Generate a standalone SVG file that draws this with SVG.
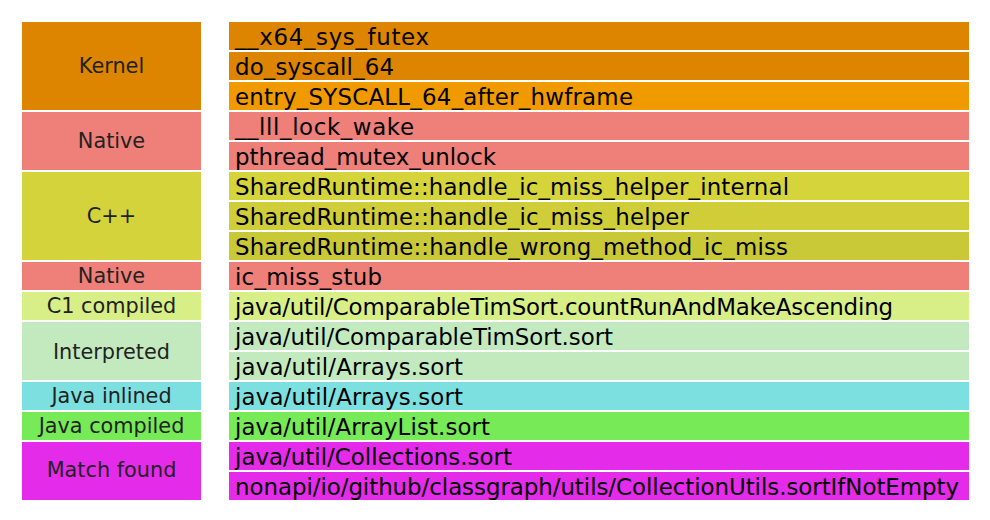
<svg xmlns="http://www.w3.org/2000/svg" width="990" height="520" viewBox="0 0 990 520">
<style>
.lab{font-family:"DejaVu Sans","Verdana",sans-serif;font-size:20.8px;fill:#222;text-anchor:middle;dominant-baseline:central}
.fr{font-family:"DejaVu Sans","Verdana",sans-serif;font-size:22.9px;fill:#000;dominant-baseline:central}
</style>
<rect width="990" height="520" fill="#fff"/>
<g id="legend">
<g id="kernel"><rect x="22" y="22" width="179" height="88" fill="#DD8500"/><text class="lab" x="111.5" y="66">Kernel</text></g>
<g id="native1"><rect x="22" y="112" width="179" height="58" fill="#EF7F79"/><text class="lab" x="111.5" y="141">Native</text></g>
<g id="cpp"><rect x="22" y="172" width="179" height="88" fill="#D4D33C"/><text class="lab" x="111.5" y="216">C++</text></g>
<g id="native2"><rect x="22" y="262" width="179" height="28" fill="#EF7F79"/><text class="lab" x="111.5" y="276">Native</text></g>
<g id="c1"><rect x="22" y="292" width="179" height="28" fill="#D8EF87"/><text class="lab" x="111.5" y="306">C1 compiled</text></g>
<g id="interp"><rect x="22" y="322" width="179" height="58" fill="#C2EABE"/><text class="lab" x="111.5" y="352">Interpreted</text></g>
<g id="inlined"><rect x="22" y="382" width="179" height="28" fill="#7DE0E0"/><text class="lab" x="111.5" y="396">Java inlined</text></g>
<g id="jcompiled"><rect x="22" y="412" width="179" height="28" fill="#76EA57"/><text class="lab" x="111.5" y="426">Java compiled</text></g>
<g id="match"><rect x="22" y="442" width="179" height="58" fill="#E52BEA"/><text class="lab" x="111.5" y="470">Match found</text></g>
</g>
<g id="frames">
<g id="f1"><rect x="229" y="22" width="740" height="28" fill="#DD8500"/><text class="fr" x="235" y="37" textLength="194">__x64_sys_futex</text></g>
<g id="f2"><rect x="229" y="52" width="740" height="28" fill="#DD8500"/><text class="fr" x="235" y="67" textLength="159">do_syscall_64</text></g>
<g id="f3"><rect x="229" y="82" width="740" height="28" fill="#F19A00"/><text class="fr" x="235" y="97" textLength="398">entry_SYSCALL_64_after_hwframe</text></g>
<g id="f4"><rect x="229" y="112" width="740" height="28" fill="#EF7F79"/><text class="fr" x="235" y="127" textLength="179">__lll_lock_wake</text></g>
<g id="f5"><rect x="229" y="142" width="740" height="28" fill="#EF7F79"/><text class="fr" x="235" y="157" textLength="261">pthread_mutex_unlock</text></g>
<g id="f6"><rect x="229" y="172" width="740" height="28" fill="#D5D43B"/><text class="fr" x="235" y="187" textLength="554">SharedRuntime::handle_ic_miss_helper_internal</text></g>
<g id="f7"><rect x="229" y="202" width="740" height="28" fill="#CFCE39"/><text class="fr" x="235" y="217" textLength="454">SharedRuntime::handle_ic_miss_helper</text></g>
<g id="f8"><rect x="229" y="232" width="740" height="28" fill="#C9C837"/><text class="fr" x="235" y="247" textLength="553">SharedRuntime::handle_wrong_method_ic_miss</text></g>
<g id="f9"><rect x="229" y="262" width="740" height="28" fill="#EF7F79"/><text class="fr" x="235" y="277" textLength="147">ic_miss_stub</text></g>
<g id="f10"><rect x="229" y="292" width="740" height="28" fill="#D8EF87"/><text class="fr" x="235" y="307" textLength="658">java/util/ComparableTimSort.countRunAndMakeAscending</text></g>
<g id="f11"><rect x="229" y="322" width="740" height="28" fill="#C2EABE"/><text class="fr" x="235" y="337" textLength="378">java/util/ComparableTimSort.sort</text></g>
<g id="f12"><rect x="229" y="352" width="740" height="28" fill="#C2EABE"/><text class="fr" x="235" y="367" textLength="228">java/util/Arrays.sort</text></g>
<g id="f13"><rect x="229" y="382" width="740" height="28" fill="#7DE0E0"/><text class="fr" x="235" y="397" textLength="228">java/util/Arrays.sort</text></g>
<g id="f14"><rect x="229" y="412" width="740" height="28" fill="#76EA57"/><text class="fr" x="235" y="427" textLength="255">java/util/ArrayList.sort</text></g>
<g id="f15"><rect x="229" y="442" width="740" height="28" fill="#E52BEA"/><text class="fr" x="235" y="457" textLength="277">java/util/Collections.sort</text></g>
<g id="f16"><rect x="229" y="472" width="740" height="28" fill="#E52BEA"/><text class="fr" x="235" y="487" textLength="724">nonapi/io/github/classgraph/utils/CollectionUtils.sortIfNotEmpty</text></g>
</g>
<g id="connectors"/>
</svg>
